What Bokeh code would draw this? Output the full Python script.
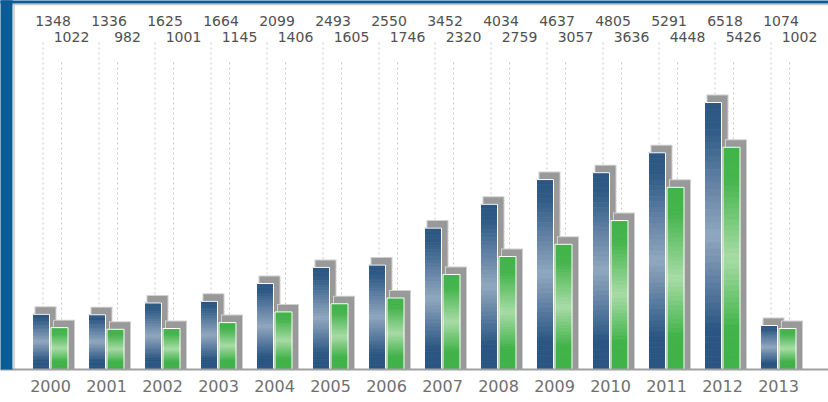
import numpy as np
from bokeh.plotting import figure
from bokeh.models import Range1d, FixedTicker, BoxAnnotation
from bokeh.embed import file_html
from bokeh.resources import INLINE
from bokeh.core.properties import value

# ---- data ----
years = ["2000", "2001", "2002", "2003", "2004", "2005", "2006",
         "2007", "2008", "2009", "2010", "2011", "2012", "2013"]
series_a = [1348, 1336, 1625, 1664, 2099, 2493, 2550, 3452, 4034, 4637, 4805, 5291, 6518, 1074]
series_b = [1022, 982, 1001, 1145, 1406, 1605, 1746, 2320, 2759, 3057, 3636, 4448, 5426, 1002]

# ---- layout constants ----
W, H = 828, 402
FRAME_H = 369
PX_X = 56.0
X0 = -50.0 / PX_X
X1 = X0 + W / PX_X
YMAX = 9009.0
PY = FRAME_H / YMAX


def dx(px):
    return px / PX_X


def dy(px):
    return px / PY


BLUE_BG = "#0b5c94"

p = figure(width=W, height=H, x_range=Range1d(X0, X1), y_range=Range1d(0, YMAX),
           output_backend="svg", toolbar_location=None, y_axis_location=None,
           min_border_left=0, min_border_right=0, min_border_top=0,
           min_border_bottom=H - FRAME_H)
p.grid.visible = False
p.outline_line_color = None
p.background_fill_color = "white"
p.border_fill_color = "white"

xa = p.xaxis[0]
xa.ticker = FixedTicker(ticks=list(range(len(years))))
xa.major_label_overrides = {i: y for i, y in enumerate(years)}
xa.major_tick_line_color = None
xa.minor_tick_line_color = None
xa.axis_line_color = "#a0a0a0"
xa.axis_line_width = 2
xa.major_label_text_font = "DejaVu Sans"
xa.major_label_text_font_size = "16px"
xa.major_label_text_color = "#707070"
xa.major_label_standoff = 4

n = len(years)
idx = np.arange(n, dtype=float)
BAR_W = 17
off_a = -9.5
off_b = 9.0

# dotted guide lines
xa_line = idx + dx(off_a + 2)
xb_line = idx + dx(off_b + 2)
p.segment(x0=xa_line, y0=np.zeros(n), x1=xa_line, y1=np.full(n, dy(FRAME_H - 40)),
          line_color="#c8c8c8", line_dash="2 3", line_width=1)
p.segment(x0=xb_line, y0=np.zeros(n), x1=xb_line, y1=np.full(n, dy(FRAME_H - 60)),
          line_color="#c8c8c8", line_dash="2 3", line_width=1)


def hexc(rgb):
    return "#%02x%02x%02x" % tuple(int(round(c)) for c in rgb)


def draw_series(vals, off, dark, light, tpts, fpts):
    vals = np.asarray(vals, dtype=float)
    left = idx + dx(off - BAR_W / 2)
    right = idx + dx(off + BAR_W / 2)
    # shadow
    p.quad(left=left + dx(2), right=right + dx(7), bottom=np.zeros(n), top=vals + dy(8),
           fill_color="#d0d0d0", line_color=None)
    p.quad(left=left + dx(3), right=right + dx(6), bottom=np.zeros(n), top=vals + dy(7),
           fill_color="#999999", line_color=None)
    # gradient slices
    N = 40
    L, R, B, T, C = [], [], [], [], []
    dark = np.array(dark, float)
    light = np.array(light, float)
    for k in range(n):
        h = vals[k]
        for i in range(N):
            t = (i + 0.5) / N
            f = np.interp(t, tpts, fpts)
            col = dark + (light - dark) * f
            L.append(left[k]); R.append(right[k])
            T.append(h - h * i / N); B.append(h - h * (i + 1) / N)
            C.append(hexc(col))
    p.quad(left=L, right=R, bottom=B, top=T, fill_color=C, line_color=C, line_width=0.6)
    # white outline
    p.quad(left=left, right=right, bottom=np.zeros(n), top=vals,
           fill_alpha=0, line_color="white", line_width=1)


draw_series(series_a, off_a, (43, 86, 131), (145, 168, 192),
            [0, 0.1, 0.5, 0.85, 1.0], [0, 0.05, 1, 0, 0])
draw_series(series_b, off_b, (64, 180, 72), (168, 221, 166),
            [0, 0.15, 0.5, 0.82, 1.0], [0, 0.05, 1, 0, 0])

# value labels
p.text(x=idx + dx(off_a + 12), y=np.full(n, dy(FRAME_H - 20)), text=[str(v) for v in series_a],
       text_font=value("DejaVu Sans"), text_font_size="14px", text_color="#505050",
       text_align="center", text_baseline="middle")
p.text(x=idx + dx(off_b + 12), y=np.full(n, dy(FRAME_H - 36.5)), text=[str(v) for v in series_b],
       text_font=value("DejaVu Sans"), text_font_size="14px", text_color="#505050",
       text_align="center", text_baseline="middle")

# panel border (gray) and blue surround
p.segment(x0=[X0 + dx(13.5)], y0=[0], x1=[X0 + dx(13.5)], y1=[YMAX - dy(3)],
          line_color="#c8c8c8", line_width=1.5)
p.segment(x0=[X0 + dx(12)], y0=[YMAX - dy(4)], x1=[X1], y1=[YMAX - dy(4)],
          line_color="#c8c8c8", line_width=1.5)
r1 = p.quad(left=[X0], right=[X0 + dx(12)], bottom=[0], top=[YMAX],
            fill_color=BLUE_BG, line_color=None)
r1.level = "overlay"
r2 = p.quad(left=[X0], right=[X1], bottom=[YMAX - dy(3)], top=[YMAX],
            fill_color=BLUE_BG, line_color=None)
r2.level = "overlay"
p.add_layout(BoxAnnotation(left=0, right=12, top=FRAME_H - 2, bottom=H,
                           left_units="screen", right_units="screen",
                           top_units="screen", bottom_units="screen",
                           fill_color=BLUE_BG, fill_alpha=1, line_color=None,
                           level="overlay"))

open("out.html", "w").write(file_html(p, INLINE))
